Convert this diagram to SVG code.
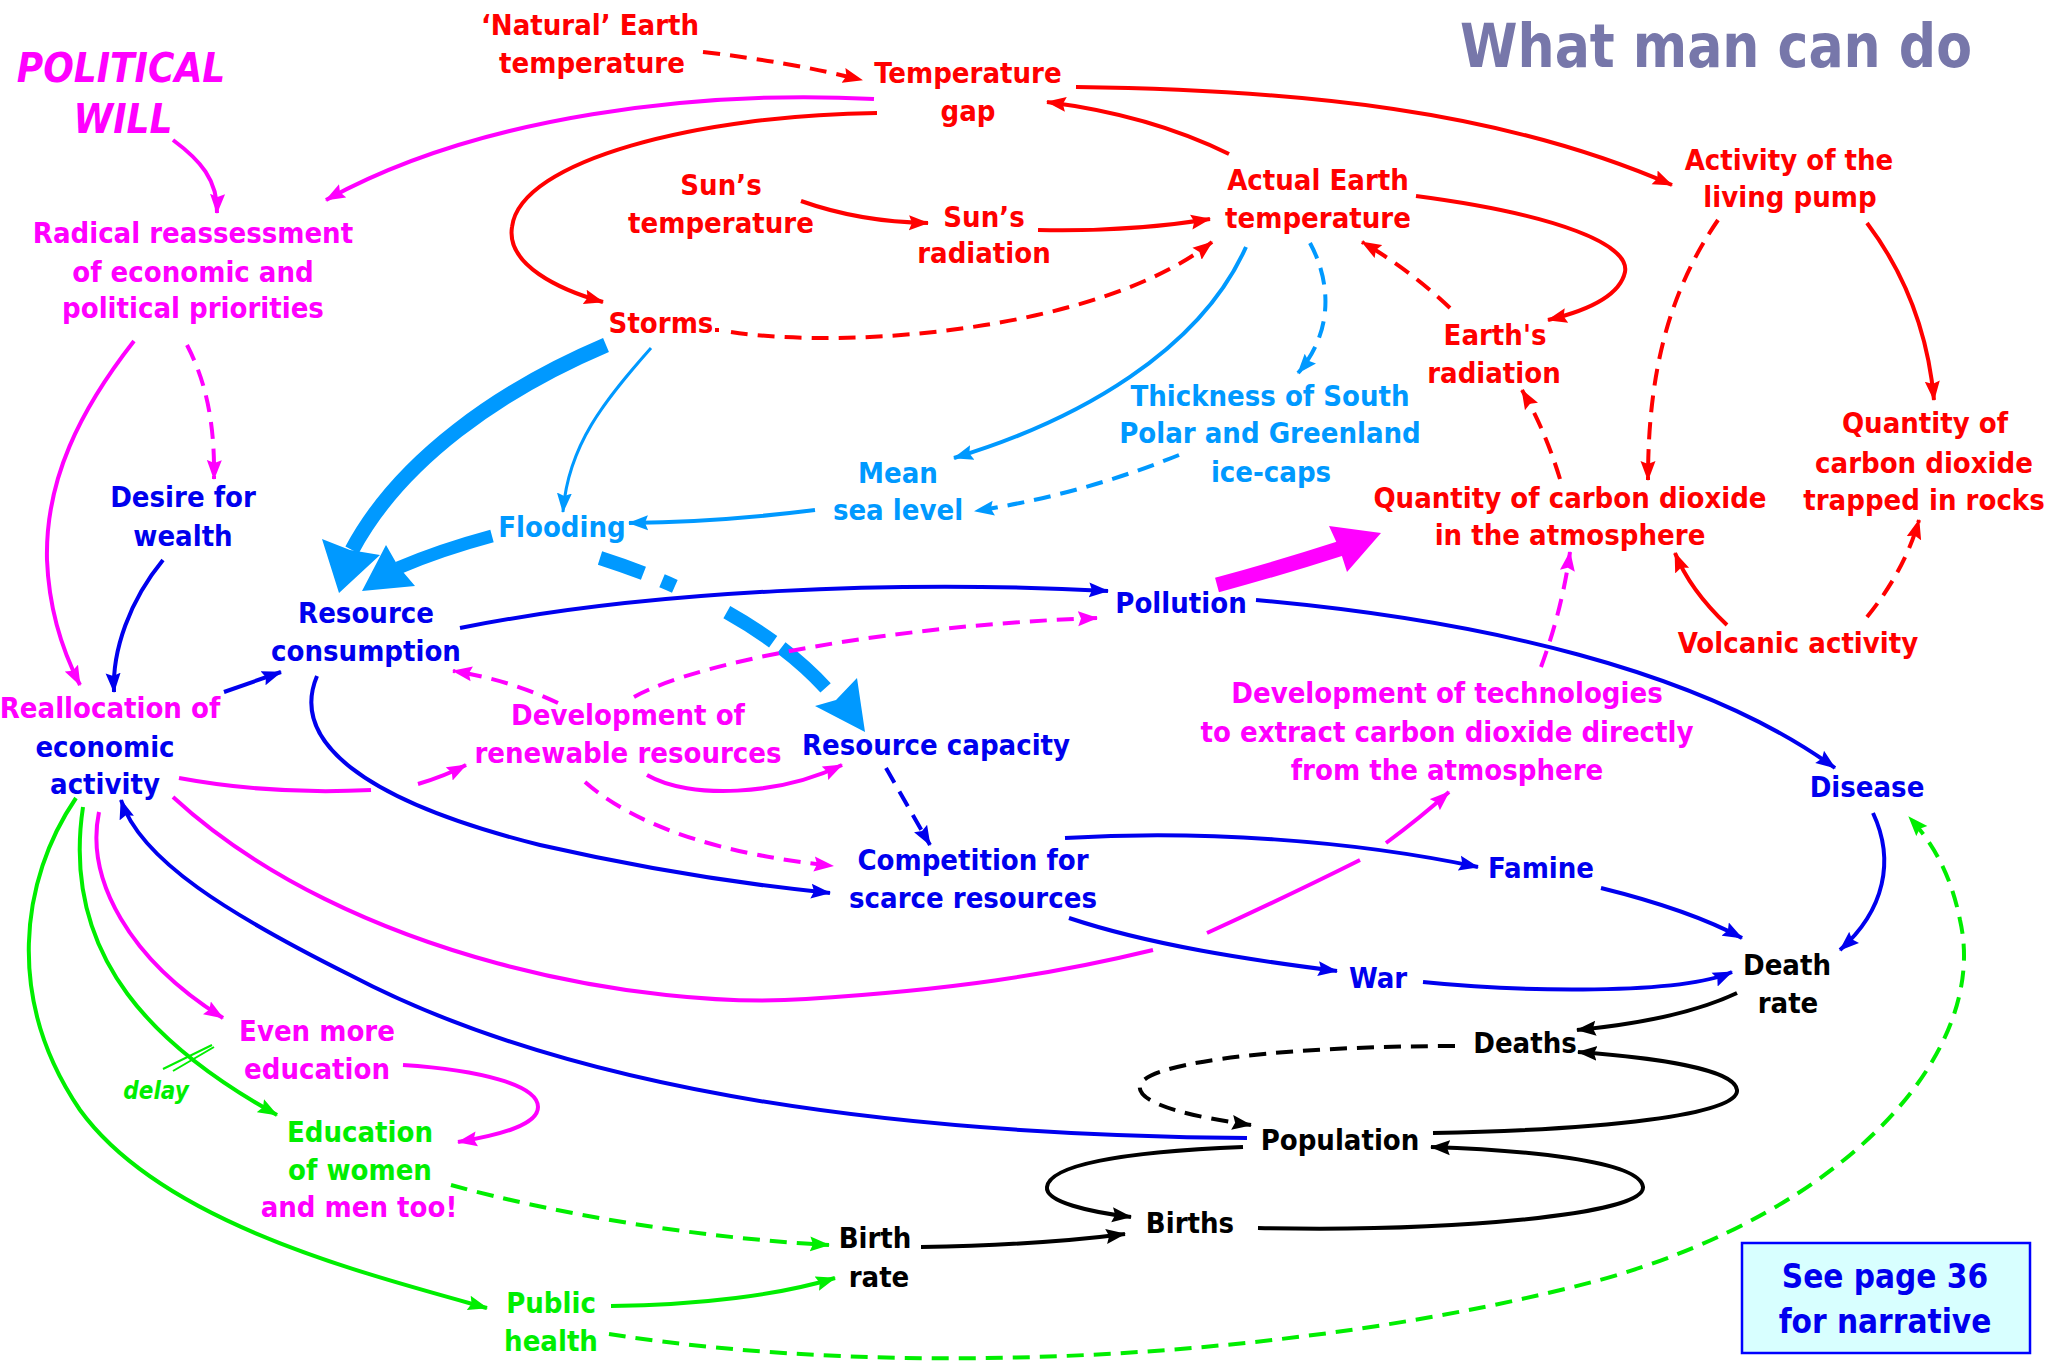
<svg xmlns="http://www.w3.org/2000/svg" width="2049" height="1369" viewBox="0 0 2049 1369">
<style>
.t{font-family:"DejaVu Sans Condensed","DejaVu Sans",sans-serif;font-weight:bold;font-stretch:condensed;font-size:29px;text-anchor:middle}
.red{fill:#ff0000}.mag{fill:#ff00ff}.blu{fill:#0000ee}.cya{fill:#0099ff}.grn{fill:#00ee00}.blk{fill:#000}
.c{fill:none;stroke-width:4}
.d{stroke-dasharray:17 10}
.sr{stroke:#ff0000}.sm{stroke:#ff00ff}.sb{stroke:#0000ee}.sc{stroke:#0099ff}.sg{stroke:#00ee00}.sk{stroke:#000}
</style>
<defs>
<marker id="ar" markerUnits="userSpaceOnUse" markerWidth="20" markerHeight="16" viewBox="0 0 20 16" refX="19" refY="8" orient="auto"><path d="M0,0.5 L20,8 L0,15.5 L3,8 z" fill="#ff0000"/></marker>
<marker id="am" markerUnits="userSpaceOnUse" markerWidth="20" markerHeight="16" viewBox="0 0 20 16" refX="19" refY="8" orient="auto"><path d="M0,0.5 L20,8 L0,15.5 L3,8 z" fill="#ff00ff"/></marker>
<marker id="ab" markerUnits="userSpaceOnUse" markerWidth="20" markerHeight="16" viewBox="0 0 20 16" refX="19" refY="8" orient="auto"><path d="M0,0.5 L20,8 L0,15.5 L3,8 z" fill="#0000ee"/></marker>
<marker id="ac" markerUnits="userSpaceOnUse" markerWidth="20" markerHeight="16" viewBox="0 0 20 16" refX="19" refY="8" orient="auto"><path d="M0,0.5 L20,8 L0,15.5 L3,8 z" fill="#0099ff"/></marker>
<marker id="ag" markerUnits="userSpaceOnUse" markerWidth="20" markerHeight="16" viewBox="0 0 20 16" refX="19" refY="8" orient="auto"><path d="M0,0.5 L20,8 L0,15.5 L3,8 z" fill="#00ee00"/></marker>
<marker id="ak" markerUnits="userSpaceOnUse" markerWidth="20" markerHeight="16" viewBox="0 0 20 16" refX="19" refY="8" orient="auto"><path d="M0,0.5 L20,8 L0,15.5 L3,8 z" fill="#000"/></marker>
</defs>
<rect width="2049" height="1369" fill="#fff"/>

<g id="connectors">
<path class="c sr d" d="M703,52 Q790,62 862,80" marker-end="url(#ar)"/>
<path class="c sm" d="M874,99 C700,90 480,115 326,200" marker-end="url(#am)"/>
<path class="c sr" d="M877,113 C700,115 520,160 512,227 C506,265 560,290 603,302" marker-end="url(#ar)"/>
<path class="c sr" d="M801,201 Q860,222 928,223" marker-end="url(#ar)"/>
<path class="c sr" d="M1038,230 Q1130,232 1210,219" marker-end="url(#ar)"/>
<path class="c sr" d="M715,330 L719,330"/>
<path class="c sr d" d="M731,332 C850,350 1100,330 1212,242" marker-end="url(#ar)"/>
<path class="c sr" d="M1229,154 Q1150,115 1047,102" marker-end="url(#ar)"/>
<path class="c sr" d="M1076,87 C1300,90 1500,110 1672,185" marker-end="url(#ar)"/>
<path class="c sr" d="M1416,196 C1560,215 1630,245 1625,272 C1620,295 1590,310 1548,320" marker-end="url(#ar)"/>
<path class="c sr d" d="M1450,308 Q1410,270 1362,242" marker-end="url(#ar)"/>
<path class="c sr" d="M1867,223 Q1925,300 1934,400" marker-end="url(#ar)"/>
<path class="c sr d" d="M1718,220 C1670,290 1648,370 1648,480" marker-end="url(#ar)"/>
<path class="c sr d" d="M1560,479 Q1545,430 1522,390" marker-end="url(#ar)"/>
<path class="c sr" d="M1727,625 Q1690,590 1675,553" marker-end="url(#ar)"/>
<path class="c sr d" d="M1867,617 Q1905,570 1919,520" marker-end="url(#ar)"/>
<path class="c sc" d="M1246,247 C1200,350 1080,420 954,458" marker-end="url(#ac)"/>
<path class="c sc d" d="M1310,243 C1330,280 1335,330 1298,373" marker-end="url(#ac)"/>
<path class="c sc d" d="M1179,455 Q1080,495 975,511" marker-end="url(#ac)"/>
<path class="c sc" d="M815,510 Q720,522 629,523" marker-end="url(#ac)"/>
<path class="c sc" style="stroke-width:3" d="M651,348 C605,400 568,445 563,512" marker-end="url(#ac)"/>
<path fill="none" stroke="#0099ff" stroke-width="15" d="M606,345 C500,390 400,460 352,550"/>
<polygon fill="#0099ff" points="339,593 322,539 350,550 380,555"/>
<path fill="none" stroke="#0099ff" stroke-width="13" d="M492,536 Q440,550 398,568"/>
<polygon fill="#0099ff" points="362,591 386,545 398,566 415,586"/>
<path fill="none" stroke="#0099ff" stroke-width="14" stroke-dasharray="46 20 14 58 55 10 60" d="M600,558 C700,590 790,640 840,705"/>
<polygon fill="#0099ff" points="865,732 815,706 836,700 857,678"/>
<path class="c sb" d="M460,628 C650,590 900,580 1108,591" marker-end="url(#ab)"/>
<path fill="none" stroke="#ff00ff" stroke-width="15" d="M1217,585 Q1280,568 1342,548"/>
<polygon fill="#ff00ff" points="1381,533 1329,526 1340,550 1347,572"/>
<path class="c sb" d="M1256,600 C1480,620 1700,670 1835,768" marker-end="url(#ab)"/>
<path class="c sb" d="M1873,813 C1895,860 1885,910 1840,950" marker-end="url(#ab)"/>
<path class="c sb" d="M1601,888 Q1690,910 1742,938" marker-end="url(#ab)"/>
<path class="c sb" d="M1423,982 C1520,992 1680,995 1732,972" marker-end="url(#ab)"/>
<path class="c sk" d="M1737,993 Q1680,1020 1577,1030" marker-end="url(#ak)"/>
<path class="c sk" d="M1433,1133 C1600,1130 1740,1115 1737,1090 C1735,1070 1660,1058 1578,1052" marker-end="url(#ak)"/>
<path class="c sk d" d="M1455,1046 C1300,1046 1150,1060 1140,1085 C1135,1105 1200,1118 1251,1125" marker-end="url(#ak)"/>
<path class="c sk" d="M1243,1147 C1120,1152 1050,1165 1047,1187 C1045,1202 1090,1212 1131,1217" marker-end="url(#ak)"/>
<path class="c sk" d="M1258,1228 C1450,1232 1645,1215 1643,1187 C1640,1160 1520,1150 1431,1147" marker-end="url(#ak)"/>
<path class="c sk" d="M921,1247 Q1040,1245 1125,1234" marker-end="url(#ak)"/>
<path class="c sb" d="M1247,1138 C850,1135 550,1080 350,975 C230,915 140,860 121,800" marker-end="url(#ab)"/>
<path class="c sb" d="M224,692 L281,672" marker-end="url(#ab)"/>
<path class="c sb" d="M163,560 C130,600 112,650 114,692" marker-end="url(#ab)"/>
<path class="c sm" d="M134,341 C80,410 45,480 47,560 C49,610 62,650 80,685" marker-end="url(#am)"/>
<path class="c sm d" d="M187,345 C205,380 215,420 214,479" marker-end="url(#am)"/>
<path class="c sm" d="M173,140 C200,160 218,180 217,213" marker-end="url(#am)"/>
<path class="c sm" d="M179,778 Q270,795 371,790"/>
<path class="c sm" d="M418,784 Q445,776 466,765" marker-end="url(#am)"/>
<path class="c sb" d="M317,676 C290,740 360,800 540,845 C650,870 740,884 830,893" marker-end="url(#ab)"/>
<path class="c sm d" d="M558,703 Q510,680 453,671" marker-end="url(#am)"/>
<path class="c sm d" d="M634,697 C700,660 900,625 1097,618" marker-end="url(#am)"/>
<path class="c sm" d="M647,775 C690,800 780,795 842,765" marker-end="url(#am)"/>
<path class="c sm d" d="M585,782 C640,830 730,855 833,866" marker-end="url(#am)"/>
<path class="c sb d" d="M886,768 L930,845" marker-end="url(#ab)"/>
<path class="c sb" d="M1065,838 C1200,830 1350,840 1478,867" marker-end="url(#ab)"/>
<path class="c sb" d="M1069,918 C1150,945 1250,960 1337,971" marker-end="url(#ab)"/>
<path class="c sm" d="M173,797 C350,960 650,1010 806,999 C950,990 1050,975 1153,950"/>
<path class="c sm" d="M1207,933 Q1290,895 1360,860"/>
<path class="c sm" d="M1386,843 Q1420,818 1449,792" marker-end="url(#am)"/>
<path class="c sm d" d="M1541,667 Q1562,610 1570,552" marker-end="url(#am)"/>
<path class="c sm" d="M99,812 C85,880 130,960 223,1018" marker-end="url(#am)"/>
<path class="c sm" d="M403,1065 C480,1070 538,1085 538,1107 C538,1125 500,1135 458,1142" marker-end="url(#am)"/>
<path class="c sg" d="M83,807 C60,960 160,1050 277,1115" marker-end="url(#ag)"/>
<path class="c sg" d="M76,798 C20,880 5,1000 80,1110 C160,1220 350,1270 487,1308" marker-end="url(#ag)"/>
<path class="c sg d" d="M451,1185 C560,1215 700,1238 829,1245" marker-end="url(#ag)"/>
<path class="c sg" d="M611,1306 C700,1305 780,1295 835,1278" marker-end="url(#ag)"/>
<path class="c sg d" d="M609,1334 C900,1380 1300,1360 1600,1280 C1850,1210 1990,1050 1960,920 C1950,870 1930,840 1909,817" marker-end="url(#ag)"/>
<path fill="none" stroke="#00ee00" stroke-width="2" d="M163,1069 L212,1045 M173,1071 L214,1047"/>
</g>

<g id="title"><text class="t" x="1716" y="67" style="font-size:60px;fill:#7777aa" textLength="512" lengthAdjust="spacingAndGlyphs">What man can do</text></g>
<g id="n-political" class="t mag" style="font-style:italic;font-size:40px"><text x="121" y="82">POLITICAL</text><text x="123" y="133">WILL</text></g>
<g id="n-natural" class="t red"><text x="590" y="35">‘Natural’ Earth</text><text x="592" y="73">temperature</text></g>
<g id="n-tempgap" class="t red"><text x="968" y="83">Temperature</text><text x="968" y="121">gap</text></g>
<g id="n-suntemp" class="t red"><text x="721" y="195">Sun’s</text><text x="721" y="233">temperature</text></g>
<g id="n-sunrad" class="t red"><text x="984" y="227">Sun’s</text><text x="984" y="263">radiation</text></g>
<g id="n-actual" class="t red"><text x="1318" y="190">Actual Earth</text><text x="1318" y="228">temperature</text></g>
<g id="n-storms" class="t red"><text x="661" y="333">Storms</text></g>
<g id="n-activity" class="t red"><text x="1789" y="170">Activity of the</text><text x="1790" y="207">living pump</text></g>
<g id="n-earthrad" class="t red"><text x="1495" y="345">Earth's</text><text x="1494" y="383">radiation</text></g>
<g id="n-rocks" class="t red"><text x="1925" y="433">Quantity of</text><text x="1924" y="473">carbon dioxide</text><text x="1924" y="510">trapped in rocks</text></g>
<g id="n-co2atm" class="t red"><text x="1570" y="508">Quantity of carbon dioxide</text><text x="1570" y="545">in the atmosphere</text></g>
<g id="n-volcanic" class="t red"><text x="1798" y="653">Volcanic activity</text></g>
<g id="n-thickness" class="t cya"><text x="1270" y="406">Thickness of South</text><text x="1270" y="443">Polar and Greenland</text><text x="1271" y="482">ice-caps</text></g>
<g id="n-mean" class="t cya"><text x="898" y="483">Mean</text><text x="898" y="520">sea level</text></g>
<g id="n-flooding" class="t cya"><text x="562" y="537">Flooding</text></g>
<g id="n-radical" class="t mag"><text x="193" y="243">Radical reassessment</text><text x="193" y="282">of economic and</text><text x="193" y="318">political priorities</text></g>
<g id="n-desire" class="t blu"><text x="183" y="507">Desire for</text><text x="183" y="546">wealth</text></g>
<g id="n-rescons" class="t blu"><text x="366" y="623">Resource</text><text x="366" y="661">consumption</text></g>
<g id="n-realloc" class="t"><text class="mag" x="110" y="718">Reallocation of</text><text class="blu" x="105" y="757">economic</text><text class="blu" x="105" y="794">activity</text></g>
<g id="n-devrenew" class="t mag"><text x="628" y="725">Development of</text><text x="628" y="763">renewable resources</text></g>
<g id="n-rescap" class="t blu"><text x="936" y="755">Resource capacity</text></g>
<g id="n-pollution" class="t blu"><text x="1181" y="613">Pollution</text></g>
<g id="n-devtech" class="t mag"><text x="1447" y="703">Development of technologies</text><text x="1447" y="742">to extract carbon dioxide directly</text><text x="1447" y="780">from the atmosphere</text></g>
<g id="n-disease" class="t blu"><text x="1867" y="797">Disease</text></g>
<g id="n-competition" class="t blu"><text x="973" y="870">Competition for</text><text x="973" y="908">scarce resources</text></g>
<g id="n-famine" class="t blu"><text x="1541" y="878">Famine</text></g>
<g id="n-war" class="t blu"><text x="1378" y="988">War</text></g>
<g id="n-deathrate" class="t blk"><text x="1787" y="975">Death</text><text x="1788" y="1013">rate</text></g>
<g id="n-deaths" class="t blk"><text x="1525" y="1053">Deaths</text></g>
<g id="n-population" class="t blk"><text x="1340" y="1150">Population</text></g>
<g id="n-births" class="t blk"><text x="1190" y="1233">Births</text></g>
<g id="n-birthrate" class="t blk"><text x="875" y="1248">Birth</text><text x="879" y="1287">rate</text></g>
<g id="n-evenmore" class="t mag"><text x="317" y="1041">Even more</text><text x="317" y="1079">education</text></g>
<g id="n-eduwomen" class="t"><text class="grn" x="360" y="1142">Education</text><text class="grn" x="360" y="1180">of women</text><text class="mag" x="359" y="1217">and men too!</text></g>
<g id="n-public" class="t grn"><text x="551" y="1313">Public</text><text x="551" y="1351">health</text></g>
<g id="n-delay" class="t grn" style="font-style:italic;font-size:24px"><text x="156" y="1099">delay</text></g>
<g id="n-note"><rect x="1742" y="1243" width="288" height="110" fill="#d8ffff" stroke="#0000ff" stroke-width="2.5"/><text class="t blu" style="font-size:33px" x="1885" y="1288">See page 36</text><text class="t blu" style="font-size:33px" x="1885" y="1333">for narrative</text></g>
</svg>
